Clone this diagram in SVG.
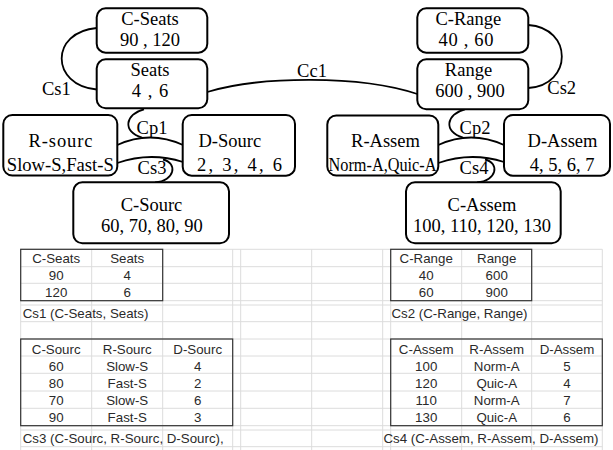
<svg xmlns="http://www.w3.org/2000/svg" width="613" height="450" viewBox="0 0 613 450">
<style>
.box{fill:#fff;stroke:#000;stroke-width:2}
.t{font-family:"Liberation Serif","Times New Roman",serif;font-size:18.5px;fill:#000;text-anchor:middle}
.l{font-family:"Liberation Serif","Times New Roman",serif;font-size:18.5px;fill:#000;text-anchor:middle}
.c{fill:none;stroke:#000;stroke-width:1.8}
.g{stroke:#dcdcdc;stroke-width:1;fill:none}
.tb{fill:none;stroke:#333;stroke-width:1.2}
.s{font-family:"Liberation Sans",Arial,sans-serif;font-size:13.3px;fill:#2a2a2a;text-anchor:middle}
.sl{font-family:"Liberation Sans",Arial,sans-serif;font-size:13.3px;fill:#2a2a2a}
</style>
<rect width="613" height="450" fill="#fff"/>
<g id="grid">
<path class="g" d="M20.7,249.3V450M91.7,249.3V450M162.7,249.3V450M232.7,249.3V450M240.7,249.3V450M311.7,249.3V450M382.7,249.3V450M390.7,249.3V450M461.7,249.3V450M531.7,249.3V450M602.3,249.3V450"/>
<path class="g" d="M20.7,249.3H602.3M20.7,266.7H602.3M20.7,283.3H602.3M20.7,300.7H602.3M20.7,305H602.3M20.7,321.7H602.3M20.7,339H602.3M20.7,356H602.3M20.7,373.3H602.3M20.7,391H602.3M20.7,408.3H602.3M20.7,425.7H602.3M20.7,430H602.3M20.7,446.7H602.3"/>
</g>
<g id="table-cs1">
<rect class="tb" x="20.7" y="249.3" width="142" height="51.4"/>
<text class="s" x="56.2" y="263">C-Seats</text><text class="s" x="127.2" y="263">Seats</text>
<text class="s" x="56.2" y="279.8">90</text><text class="s" x="127.2" y="279.8">4</text>
<text class="s" x="56.2" y="297">120</text><text class="s" x="127.2" y="297">6</text>
<text class="sl" x="22.7" y="318">Cs1 (C-Seats, Seats)</text>
</g>
<g id="table-cs3">
<rect class="tb" x="20.7" y="339" width="212" height="86.7"/>
<text class="s" x="56.2" y="353.5">C-Sourc</text><text class="s" x="127.2" y="353.5">R-Sourc</text><text class="s" x="197.7" y="353.5">D-Sourc</text>
<text class="s" x="56.2" y="370.5">60</text><text class="s" x="127.2" y="370.5">Slow-S</text><text class="s" x="197.7" y="370.5">4</text>
<text class="s" x="56.2" y="387.8">80</text><text class="s" x="127.2" y="387.8">Fast-S</text><text class="s" x="197.7" y="387.8">2</text>
<text class="s" x="56.2" y="405.2">70</text><text class="s" x="127.2" y="405.2">Slow-S</text><text class="s" x="197.7" y="405.2">6</text>
<text class="s" x="56.2" y="422.3">90</text><text class="s" x="127.2" y="422.3">Fast-S</text><text class="s" x="197.7" y="422.3">3</text>
<text class="sl" x="22.7" y="443">Cs3 (C-Sourc, R-Sourc, D-Sourc),</text>
</g>
<g id="table-cs2">
<rect class="tb" x="390.7" y="249.3" width="141" height="51.4"/>
<text class="s" x="426.2" y="263">C-Range</text><text class="s" x="496.7" y="263">Range</text>
<text class="s" x="426.2" y="279.8">40</text><text class="s" x="496.7" y="279.8">600</text>
<text class="s" x="426.2" y="297">60</text><text class="s" x="496.7" y="297">900</text>
<text class="sl" x="391.5" y="318">Cs2 (C-Range, Range)</text>
</g>
<g id="table-cs4">
<rect class="tb" x="390.7" y="339" width="211.6" height="86.7"/>
<text class="s" x="426.2" y="353.5">C-Assem</text><text class="s" x="496.7" y="353.5">R-Assem</text><text class="s" x="567" y="353.5">D-Assem</text>
<text class="s" x="426.2" y="370.5">100</text><text class="s" x="496.7" y="370.5">Norm-A</text><text class="s" x="567" y="370.5">5</text>
<text class="s" x="426.2" y="387.8">120</text><text class="s" x="496.7" y="387.8">Quic-A</text><text class="s" x="567" y="387.8">4</text>
<text class="s" x="426.2" y="405.2">110</text><text class="s" x="496.7" y="405.2">Norm-A</text><text class="s" x="567" y="405.2">7</text>
<text class="s" x="426.2" y="422.3">130</text><text class="s" x="496.7" y="422.3">Quic-A</text><text class="s" x="567" y="422.3">6</text>
<text class="sl" x="383.5" y="443">Cs4 (C-Assem, R-Assem, D-Assem)</text>
</g>
<g id="connectors">
<path id="cs1" class="c" d="M96.7,28 C50,32 50,85 96.7,89.5"/>
<path id="cs2" class="c" d="M528.3,25 C573,28 573,85 528.3,88"/>
<path id="cc1" class="c" d="M207.3,92 C260,76 360,75 417.3,94"/>
<path id="cp1" class="c" d="M144,109.3 C125,114 122,132 142,137.5"/>
<path id="cp1-arc" class="c" d="M117.3,145 Q150,130 183,145"/>
<path id="cs3-arc" class="c" d="M117.3,163 Q150,151.5 183,162"/>
<path id="cs3" class="c" d="M163,159.5 C178,163 175,181 155,182.3"/>
<path id="cp2" class="c" d="M465,109.3 C446,114 443,132 463,137.5"/>
<path id="cp2-arc" class="c" d="M438.3,145 Q471,130 504,145"/>
<path id="cs4-arc" class="c" d="M438.3,163 Q471,151.5 504,162"/>
<path id="cs4" class="c" d="M485,159.5 C500,163 497,181 477,182.3"/>
<text class="l" x="56.3" y="95">Cs1</text>
<text class="l" x="561.7" y="94">Cs2</text>
<text class="l" x="312" y="76.7">Cc1</text>
<text class="l" x="152" y="134.3">Cp1</text>
<text class="l" x="152" y="174">Cs3</text>
<text class="l" x="475" y="134.3">Cp2</text>
<text class="l" x="474" y="174">Cs4</text>
</g>
<g id="node-c-seats">
<rect class="box" x="96.7" y="8.3" width="110.6" height="44.4" rx="9"/>
<text class="t" x="150" y="25">C-Seats</text>
<text class="t" x="150" y="46">90 , 120</text>
</g>
<g id="node-seats">
<rect class="box" x="96.7" y="59.3" width="110.6" height="49" rx="9"/>
<text class="t" x="150" y="76">Seats</text>
<text class="t" x="150" y="97" textLength="36.7" lengthAdjust="spacing">4 , 6</text>
</g>
<g id="node-r-sourc">
<rect class="box" x="3.3" y="115" width="114" height="60.5" rx="9"/>
<text class="t" x="60.5" y="146.7" textLength="64" lengthAdjust="spacing">R-sourc</text>
<text class="t" x="60.3" y="170.7" textLength="107" lengthAdjust="spacingAndGlyphs">Slow-S,Fast-S</text>
</g>
<g id="node-d-sourc">
<rect class="box" x="182.7" y="115" width="112.3" height="60.7" rx="9"/>
<text class="t" x="198.5" y="146.7" style="text-anchor:start">D-Sourc</text>
<text class="t" x="197" y="170.7" style="text-anchor:start" textLength="85" lengthAdjust="spacing">2, 3, 4, 6</text>
</g>
<g id="node-c-sourc">
<rect class="box" x="73.3" y="182.3" width="155.7" height="61" rx="9"/>
<text class="t" x="151.5" y="211">C-Sourc</text>
<text class="t" x="151.8" y="232.3">60, 70, 80, 90</text>
</g>
<g id="node-c-range">
<rect class="box" x="417.3" y="8.3" width="111" height="44.4" rx="9"/>
<text class="t" x="468.3" y="25">C-Range</text>
<text class="t" x="466" y="46" textLength="55" lengthAdjust="spacing">40 , 60</text>
</g>
<g id="node-range">
<rect class="box" x="417.3" y="59.3" width="111" height="50" rx="9"/>
<text class="t" x="468.5" y="76">Range</text>
<text class="t" x="470" y="97">600 , 900</text>
</g>
<g id="node-r-assem">
<rect class="box" x="327.3" y="115.5" width="111" height="60" rx="9"/>
<text class="t" x="385.5" y="146.7">R-Assem</text>
<text class="t" x="382.5" y="170.7" textLength="108" lengthAdjust="spacingAndGlyphs">Norm-A,Quic-A</text>
</g>
<g id="node-d-assem">
<rect class="box" x="504" y="115" width="106" height="60.7" rx="9"/>
<text class="t" x="562.5" y="146.7">D-Assem</text>
<text class="t" x="562" y="170.7">4, 5, 6, 7</text>
</g>
<g id="node-c-assem">
<rect class="box" x="406" y="182.3" width="154.7" height="61" rx="9"/>
<text class="t" x="482" y="211">C-Assem</text>
<text class="t" x="482" y="232.3">100, 110, 120, 130</text>
</g>
</svg>
